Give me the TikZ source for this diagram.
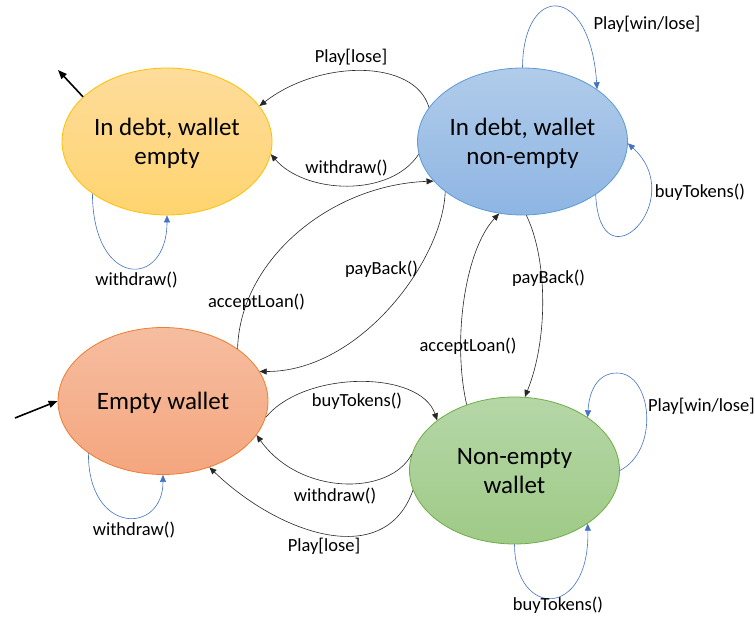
\documentclass[tikz,border=0pt]{standalone}
\usepackage{fontspec}
\setmainfont{Carlito}
\usepackage{tikz}
\usetikzlibrary{shapes.geometric,arrows.meta}

\definecolor{yelTop}{HTML}{FEDC9B}
\definecolor{yelBot}{HTML}{FFD46F}
\definecolor{yelLine}{HTML}{FFC000}
\definecolor{bluTop}{HTML}{B1CCEA}
\definecolor{bluBot}{HTML}{8EB5E3}
\definecolor{bluLine}{HTML}{5B9BD5}
\definecolor{oraTop}{HTML}{F6BDA0}
\definecolor{oraBot}{HTML}{F4A67E}
\definecolor{oraLine}{HTML}{ED7D31}
\definecolor{grnTop}{HTML}{B5D7A7}
\definecolor{grnBot}{HTML}{9FCA87}
\definecolor{grnLine}{HTML}{70AD47}
\definecolor{loopBlue}{HTML}{4472C4}

\begin{document}
\begin{tikzpicture}[x=1pt,y=-1pt,>={Triangle[length=7pt,width=6pt]},
    wallet/.style={ellipse,minimum width=210pt,minimum height=147pt,inner sep=0pt,
      align=center,text depth=0pt,line width=0.8pt,font=\fontsize{25}{29}\selectfont},
    trans/.style={->,draw=black!85,line width=0.6pt},
    selfloop/.style={->,draw=loopBlue,line width=0.6pt},
    initarrow/.style={-{Triangle[length=9pt,width=7pt]},line width=1.6pt},
    lbl/.style={inner sep=0pt,font=\fontsize{18.5}{22}\selectfont}]
    \useasboundingbox (0,0) rectangle (755,617);

    % states
    \node[wallet,top color=yelTop,bottom color=yelBot,draw=yelLine] (debtEmpty) at (167,141.5) {In debt, wallet\\empty};
    \node[wallet,top color=bluTop,bottom color=bluBot,draw=bluLine] (debtFull) at (522.5,141.5) {In debt, wallet\\non-empty};
    \node[wallet,top color=oraTop,bottom color=oraBot,draw=oraLine] (empty) at (163,401) {Empty wallet};
    \node[wallet,top color=grnTop,bottom color=grnBot,draw=grnLine] (full) at (514.5,470.5) {Non-empty\\wallet};

    % start arrows
    \coordinate (exitPt) at (58,70);
    \coordinate (startPt) at (15,418);
    \draw[initarrow] (debtEmpty.152) -- (exitPt);
    \draw[initarrow] (startPt) -- (empty.180);

    % transitions
    \draw[trans] (debtFull.160) .. controls (415,59) and (320,59) .. (debtEmpty.21);
    \draw[trans] (debtFull.187) .. controls (390,198) and (305,194) .. (debtEmpty.353);
    \draw[trans] (empty.35) .. controls (240,260) and (330,185) .. (debtFull.204);
    \draw[trans] (debtFull.213) .. controls (443,260) and (360,372) .. (empty.17);
    \draw[trans] (full.126) .. controls (452,340) and (465,250) .. (debtFull.252);
    \draw[trans] (debtFull.273) .. controls (548,260) and (548,340) .. (full.82);
    \draw[trans] (empty.351) .. controls (305,370) and (420,370) .. (full.147);
    \draw[trans] (full.171) .. controls (390,496) and (300,496) .. (empty.340);
    \draw[trans] (full.191) .. controls (385,570) and (280,535) .. (empty.305);

    % self loops
    \draw[selfloop] (debtEmpty.215) .. controls (93,289) and (167,289) .. (debtEmpty.270);
    \draw[selfloop] (debtFull.90) .. controls (523,-17) and (590,-17) .. (debtFull.35);
    \draw[selfloop] (debtFull.324) .. controls (600,290) and (690,200) .. (debtFull.359);
    \draw[selfloop] (empty.215) .. controls (88,535) and (163,535) .. (empty.270);
    \draw[selfloop] (full.0) .. controls (660,450) and (652,373) .. (617,373)
        .. controls (597,373) and (589,392) .. (full.36);
    \draw[selfloop] (full.270) .. controls (515,619) and (590,619) .. (full.324);

    % labels
    \node[lbl] (lPlayLoseA) at (351,57) {Play[lose]};
    \node[lbl] (lWithdrawA) at (346.5,168) {withdraw()};
    \node[lbl] (lWithdrawB) at (136.5,280) {withdraw()};
    \node[lbl] (lPlayWinA) at (647,24) {Play[win/lose]};
    \node[lbl] (lBuyA) at (700,192) {buyTokens()};
    \node[lbl] (lAcceptA) at (256.5,302) {acceptLoan()};
    \node[lbl] (lPayA) at (381.5,269) {payBack()};
    \node[lbl] (lAcceptB) at (468,346) {acceptLoan()};
    \node[lbl] (lPayB) at (548.5,278) {payBack()};
    \node[lbl] (lBuyB) at (357,401) {buyTokens()};
    \node[lbl] (lWithdrawC) at (335,496) {withdraw()};
    \node[lbl] (lPlayLoseB) at (324,546) {Play[lose]};
    \node[lbl] (lWithdrawD) at (134,530) {withdraw()};
    \node[lbl] (lPlayWinB) at (701.5,406) {Play[win/lose]};
    \node[lbl] (lBuyC) at (558,605) {buyTokens()};
\end{tikzpicture}
\end{document}
